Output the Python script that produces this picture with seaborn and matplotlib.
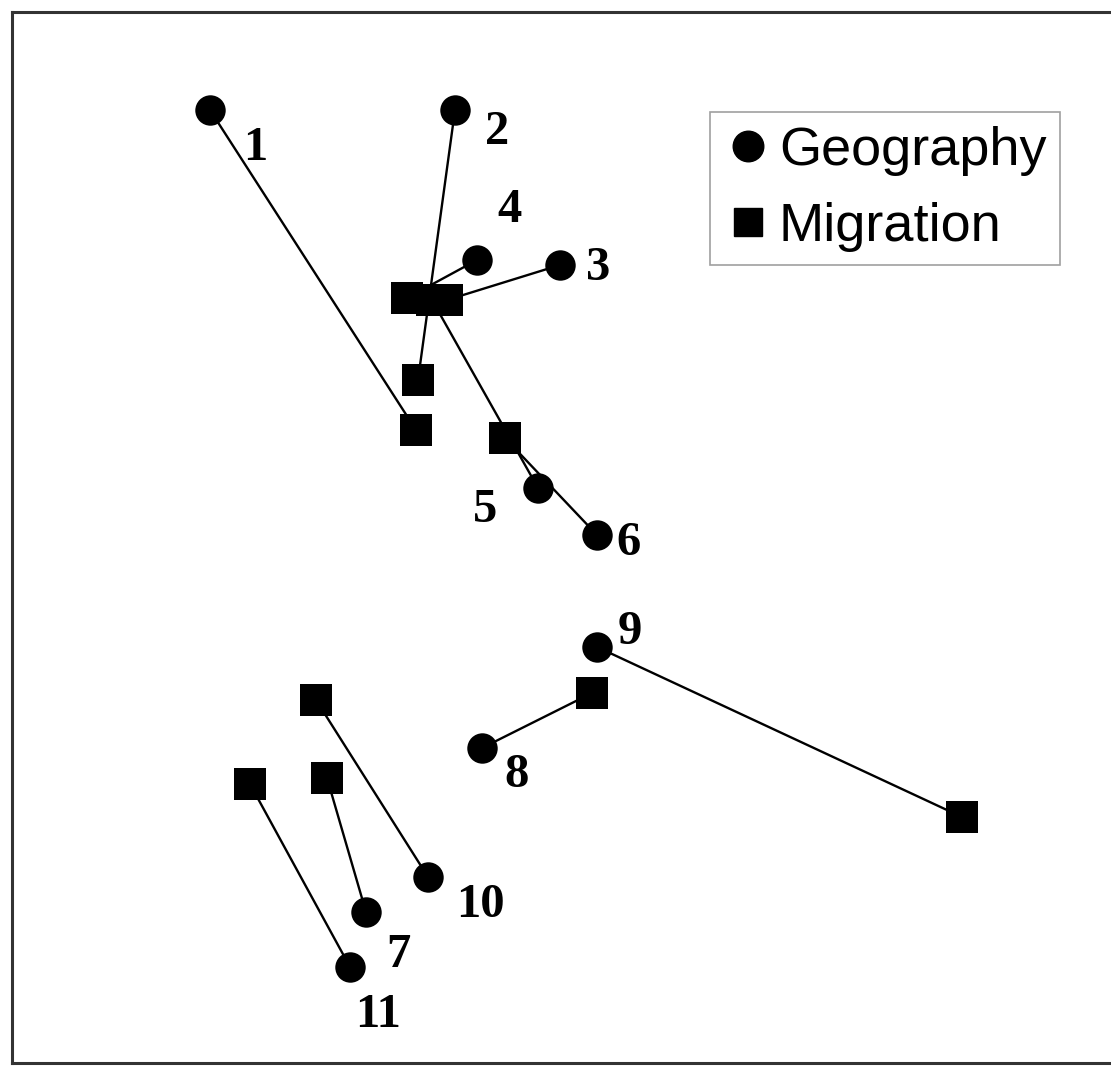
import numpy as np
import pandas as pd
import seaborn as sns
import matplotlib.pyplot as plt
from matplotlib.lines import Line2D

# point ids
labels = ["1", "2", "3", "4", "5", "6", "7", "8", "9", "10", "11"]

# positions (x right, y down)
geo_x = [210, 455, 560, 477, 538, 597, 366, 482, 597, 428, 350]
geo_y = [110, 110, 265, 260, 488, 535, 912, 748, 647, 877, 967]
mig_x = [416, 418, 447, 407, 432, 505, 327, 592, 962, 316, 250]
mig_y = [430, 380, 300, 298, 300, 438, 778, 693, 817, 700, 784]

# where the number labels sit
lab_x = [255, 497, 598, 510, 485, 628, 398, 517, 630, 480, 378]
lab_y = [148, 132, 268, 210, 510, 543, 955, 775, 632, 905, 1015]

sns.set_theme(style="white")

df = pd.DataFrame({
    "x": geo_x + mig_x,
    "y": geo_y + mig_y,
    "kind": ["Geography"] * len(geo_x) + ["Migration"] * len(mig_x),
})

fig = plt.figure(figsize=(11.11, 10.68), dpi=100)
W, H = 1111, 1068
ax = fig.add_axes([12 / W, (H - 1063) / H, (W - 12) / W, (1063 - 12) / H])

# connecting lines
for gx, gy, mx, my in zip(geo_x, geo_y, mig_x, mig_y):
    ax.plot([gx, mx], [gy, my], color="black", lw=1.7, zorder=1)

geo = df[df["kind"] == "Geography"]
mig = df[df["kind"] == "Migration"]
sns.scatterplot(data=geo, x="x", y="y", marker="o", s=480, color="black",
                edgecolor="black", linewidth=0, ax=ax, zorder=3, legend=False)
sns.scatterplot(data=mig, x="x", y="y", marker="s", s=530, color="black",
                edgecolor="black", linewidth=0, ax=ax, zorder=3, legend=False)

for t, lx, ly in zip(labels, lab_x, lab_y):
    ax.text(lx, ly, t, ha="center", va="center", fontsize=35,
            fontweight="bold", family="Liberation Serif", color="black")

ax.set_xlim(12, 1111)
ax.set_ylim(1063, 12)
ax.set_xticks([])
ax.set_yticks([])
ax.set_xlabel("")
ax.set_ylabel("")
for side in ["top", "left", "bottom"]:
    ax.spines[side].set_color("#333333")
    ax.spines[side].set_linewidth(2.2)
ax.spines["right"].set_visible(False)

handles = [
    Line2D([], [], marker="o", color="black", ls="none", markersize=22),
    Line2D([], [], marker="s", color="black", ls="none", markersize=20),
]
leg = ax.legend(handles, ["Geography", "Migration"], loc="upper left",
                bbox_to_anchor=(710 / W, 1 - 112 / H),
                bbox_transform=fig.transFigure,
                prop={"family": "Liberation Sans", "size": 39},
                frameon=True, fancybox=False, handletextpad=0.12,
                handlelength=0.9, borderpad=0.25, labelspacing=0.48,
                borderaxespad=0)
for txt in leg.get_texts():
    txt.set_color("black")
leg.get_frame().set_edgecolor("#888888")
leg.get_frame().set_linewidth(1.2)

fig.savefig("out.png", dpi=100)
